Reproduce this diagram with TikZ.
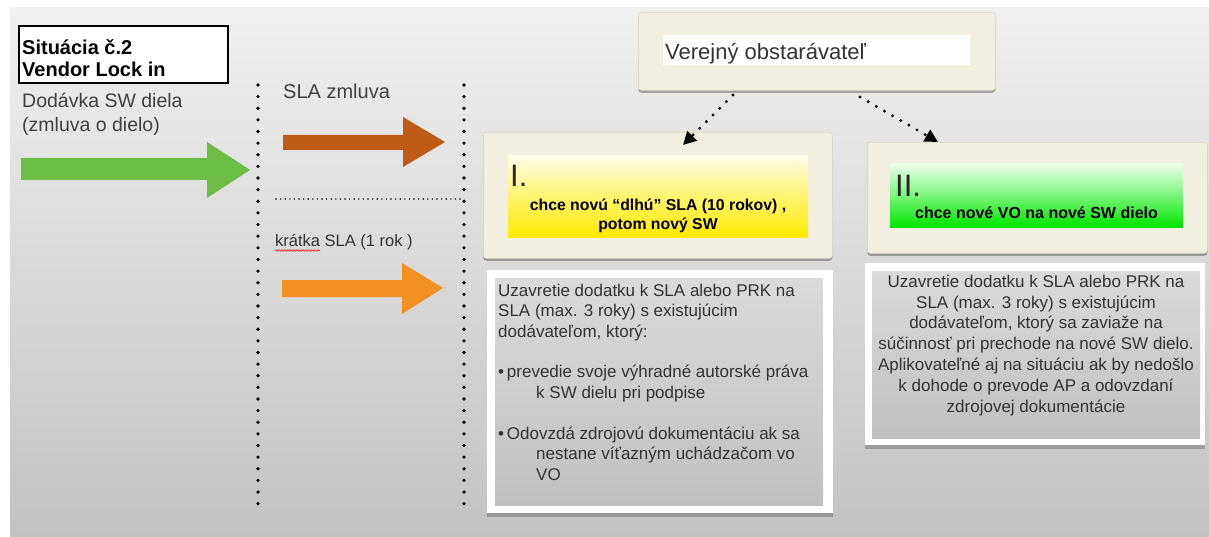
\documentclass[tikz,border=0pt]{standalone}
\usepackage{fontspec}
\setmainfont{Liberation Sans}
\usetikzlibrary{shadows,arrows.meta,decorations.pathmorphing}
\definecolor{bgtop}{HTML}{F0F0F0}
\definecolor{bgbot}{HTML}{C2C2C2}
\definecolor{beige}{HTML}{F3EFE0}
\definecolor{beigeedge}{HTML}{DDD6C0}
\definecolor{agreen}{HTML}{6BBD45}
\definecolor{abrown}{HTML}{C05A17}
\definecolor{aorange}{HTML}{F29122}
\definecolor{txt}{HTML}{333333}
\definecolor{graytop}{HTML}{DADADA}
\definecolor{graybot}{HTML}{C0C0C0}
\definecolor{gtop}{HTML}{EEFFEE}
\definecolor{gmid}{HTML}{7AF57A}
\definecolor{gbot}{HTML}{00E400}
\definecolor{ytop}{HTML}{FFFCEA}
\definecolor{ymid}{HTML}{FFF470}
\definecolor{ybot}{HTML}{FFEA00}
\tikzset{
  card/.style={draw=beigeedge, line width=0.6pt, fill=beige, rounded corners=3pt, anchor=north west, inner sep=0pt,
    drop shadow={shadow xshift=0pt, shadow yshift=-2.5pt, opacity=0.3, fill=black}},
  whitebox/.style={fill=white, anchor=north west, inner sep=0pt,
    drop shadow={shadow xshift=0pt, shadow yshift=-4pt, opacity=0.22, fill=black}},
  graybox/.style={top color=graytop, bottom color=graybot, anchor=north west, inner sep=0pt},
  vline/.style={line width=3.6pt, line cap=round, dash pattern=on 0pt off 11.63pt},
  hline/.style={line width=1.6pt, line cap=round, dash pattern=on 0pt off 4.6pt},
  dotarrow/.style={line width=3.2pt, line cap=round, dash pattern=on 0pt off 9.4pt,
    -{Triangle[length=13pt,width=13pt]}},
  lbl/.style={text=txt, inner sep=0pt, anchor=base west},
}
\begin{document}
\begin{tikzpicture}[x=1pt,y=-1pt]
\useasboundingbox (0,0) rectangle (1209,537);
\shade[top color=bgtop, bottom color=bgbot] (10,8) rectangle (1209,537);

% title box
\node[draw=black, line width=2pt, fill=white, anchor=north west, minimum width=209pt, minimum height=57pt, inner sep=0pt] (title) at (18,25) {};
\node[inner sep=0pt, anchor=base west, font=\fontsize{20}{22}\selectfont\bfseries, align=left] (titletxt) at (22,77) {Situácia č.2\\Vendor Lock in};

% left labels
\node[lbl, font=\fontsize{19.5}{24}\selectfont, text=black!75, align=left] (dod) at (22,132) {Dodávka SW diela\\(zmluva o dielo)};
\node[lbl, font=\fontsize{20}{24}\selectfont, text=black!75] (sla) at (283,99) {SLA zmluva};
\node[lbl, font=\fontsize{16.5}{20}\selectfont, text=black!80] (kr) at (275,247) {krátka SLA (1 rok )};
\draw[red, line width=0.6pt, decorate, decoration={snake, amplitude=0.8pt, segment length=3pt}] (275,250.5) -- (320,250.5);

% arrows
\fill[agreen] (21,158) -- (207,158) -- (207,142) -- (250,170) -- (207,198) -- (207,180) -- (21,180) -- cycle;
\fill[abrown] (283,135) -- (403,135) -- (403,117) -- (445,142) -- (403,167) -- (403,150) -- (283,150) -- cycle;
\fill[aorange] (282,280) -- (402,280) -- (402,263) -- (443,288) -- (402,314) -- (402,297) -- (282,297) -- cycle;

% dotted lines
\coordinate (v1a) at (258,85); \coordinate (v1b) at (258,513);
\coordinate (v2a) at (464,85); \coordinate (v2b) at (464,513);
\coordinate (h1a) at (276,199); \coordinate (h1b) at (460,199);
\draw[vline] (v1a) -- (v1b);
\draw[vline] (v2a) -- (v2b);
\draw[hline] (h1a) -- (h1b);

% top card
\node[card, minimum width=357pt, minimum height=78pt] (vo) at (638,12) {};
\node[fill=white, anchor=north west, minimum width=307pt, minimum height=30pt, inner sep=0pt] (voin) at (663,35) {};
\node[lbl, font=\fontsize{22}{24}\selectfont, text=black!80] (votxt) at (665,60) {Verejný obstarávateľ};

% card I
\node[card, minimum width=349pt, minimum height=126pt] (c1) at (483,132) {};
\node[anchor=north west, minimum width=300pt, minimum height=82pt, inner sep=0pt,
  top color=ytop, bottom color=ybot, middle color=ymid] (c1in) at (508,155) {};
\node[lbl, font=\fontsize{31}{31}\selectfont, text=black!85] (c1num) at (510,187) {I.};
\node[inner sep=0pt, anchor=base, align=center, font=\fontsize{15.8}{19}\selectfont\bfseries] (c1txt) at (658,230) {chce novú “dlhú” SLA (10 rokov) ,\\potom nový SW};

% card II
\node[card, minimum width=340pt, minimum height=111pt] (c2) at (867,142) {};
\node[anchor=north west, minimum width=293pt, minimum height=64pt, inner sep=0pt,
  top color=gtop, bottom color=gbot, middle color=gmid] (c2in) at (890,163) {};
\node[lbl, font=\fontsize{31}{31}\selectfont, text=black!85] (c2num) at (895,197) {II.};
\node[inner sep=0pt, anchor=base, font=\fontsize{16}{19}\selectfont\bfseries] (c2txt) at (1036.5,219) {chce nové VO na nové SW dielo};

% dotted connectors
\coordinate (d1s) at (733,95); \coordinate (d1e) at (683,145);
\coordinate (d2s) at (860,97); \coordinate (d2e) at (938,142);
\draw[dotarrow] (d1s) -- (d1e);
\draw[dotarrow] (d2s) -- (d2e);

% white box I
\node[whitebox, minimum width=346pt, minimum height=243pt] (w1) at (487,270) {};
\node[graybox, minimum width=328pt, minimum height=227pt] (g1) at (495,278) {};
\node[lbl, align=left, font=\fontsize{17}{20.3}\selectfont] (w1txt) at (498,480) {Uzavretie dodatku k SLA alebo PRK na\\SLA (max. 3 roky) s existujúcim\\dodávateľom, ktorý:\\[20.3pt]•\,prevedie svoje výhradné autorské práva\\\hspace*{38pt}k SW dielu pri podpise\\[21pt]•\,Odovzdá zdrojovú dokumentáciu ak sa\\\hspace*{38pt}nestane víťazným uchádzačom vo\\\hspace*{38pt}VO};

% white box II
\node[whitebox, minimum width=340pt, minimum height=182pt] (w2) at (865,263) {};
\node[graybox, minimum width=328pt, minimum height=167pt] (g2) at (872,271) {};
\node[inner sep=0pt, anchor=base, text=txt, align=center, font=\fontsize{17}{20.8}\selectfont] (w2txt) at (1036,412) {Uzavretie dodatku k SLA alebo PRK na\\SLA (max. 3 roky) s existujúcim\\dodávateľom, ktorý sa zaviaže na\\súčinnosť pri prechode na nové SW dielo.\\Aplikovateľné aj na situáciu ak by nedošlo\\k dohode o prevode AP a odovzdaní\\zdrojovej dokumentácie};
\end{tikzpicture}
\end{document}
